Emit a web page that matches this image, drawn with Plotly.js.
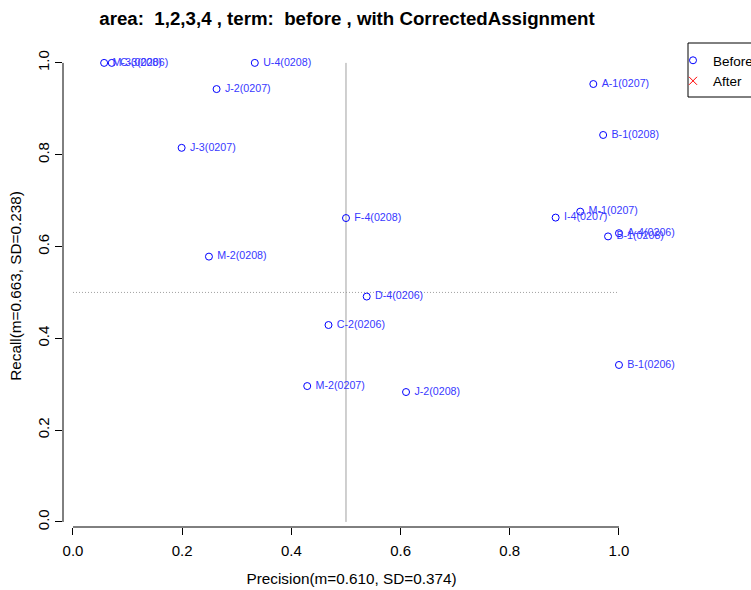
<!DOCTYPE html>
<html>
<head>
<meta charset="utf-8">
<script src="https://cdn.plot.ly/plotly-3.0.1.min.js"></script>
<style>html,body{margin:0;padding:0;background:#fff;}#chart{width:751px;height:590px;}</style>
</head>
<body>
<div id="chart"></div>
<script>
var labels = ["M-3(0208)","C-3(0206)","U-4(0208)","J-2(0207)","J-3(0207)","A-1(0207)","B-1(0208)","F-4(0208)","M-2(0208)","I-4(0207)","M-1(0207)","A-4(0206)","B-1(0208)","D-4(0206)","C-2(0206)","M-2(0207)","J-2(0208)","B-1(0206)"];
var precision = [0.057,0.071,0.333,0.263,0.199,0.953,0.971,0.500,0.249,0.884,0.929,1.000,0.980,0.538,0.468,0.429,0.610,1.000];
var recall    = [1.000,1.000,1.000,0.943,0.815,0.954,0.843,0.662,0.578,0.663,0.676,0.629,0.622,0.491,0.429,0.296,0.283,0.342];
var afterPrecision = [null];
var afterRecall = [null];
var xTicks = [0,0.2,0.4,0.6,0.8,1.0];
var yTicks = [0,0.2,0.4,0.6,0.8,1.0];

var FONT = "Liberation Sans, Arial, sans-serif";
var xRange = [-0.0183, 1.0385];
var yRange = [-0.011, 1.039];

var traces = [
  {x: precision, y: recall, text: labels, type: "scatter", mode: "markers+text", name: "Before",
   texttemplate: "\u00a0%{text}",
   marker: {symbol: "circle-open", size: 7, color: "#0000ff", line: {width: 1, color: "#0000ff"}},
   textposition: "middle right", textfont: {family: FONT, size: 10.7, color: "#3838ff"}, cliponaxis: false},
  {x: afterPrecision, y: afterRecall, type: "scatter", mode: "markers", name: "After",
   marker: {symbol: "x-thin-open", size: 8, color: "#ff0000", line: {width: 1, color: "#ff0000"}}}
];

var layout = {
  width: 751, height: 590,
  margin: {l: 63, r: 111, t: 45, b: 63},
  paper_bgcolor: "#fff", plot_bgcolor: "#fff",
  font: {family: FONT, color: "#000"},
  title: {text: "area:\u00a0 1,2,3,4 , term:\u00a0 before , with CorrectedAssignment",
          font: {family: FONT, size: 18.7, color: "#000", weight: "bold"},
          x: 347/751, xref: "container", xanchor: "center", y: 1 - 18/590, yref: "container", yanchor: "middle"},
  xaxis: {range: xRange, tickvals: xTicks, ticktext: xTicks.map(function(v){return v.toFixed(1);}),
          showgrid: false, zeroline: false, showline: false, ticks: "outside", ticklen: 7, tickcolor: "#000",
          ticklabelstandoff: 3,
          tickfont: {family: FONT, size: 15}, title: {text: "Precision(m=0.610, SD=0.374)", font: {family: FONT, size: 15.3}, standoff: 15}},
  yaxis: {range: yRange, tickvals: yTicks, ticktext: yTicks.map(function(v){return v.toFixed(1);}),
          showgrid: false, zeroline: false, showline: false, ticks: "outside", ticklen: 7, tickcolor: "#000", tickangle: -90,
          tickfont: {family: FONT, size: 15}, title: {text: "Recall(m=0.663, SD=0.238)", font: {family: FONT, size: 15.3}, standoff: 9}},
  showlegend: true,
  legend: {xref: "container", yref: "container", x: 673/751, xanchor: "left", y: 1 - 45/590, yanchor: "top",
           borderwidth: 0, bgcolor: "rgba(0,0,0,0)", font: {family: FONT, size: 13.5}, tracegroupgap: 0},
  shapes: [
    {type: "line", xref: "x", yref: "paper", x0: xTicks[0], x1: xTicks[xTicks.length-1], y0: 0, y1: 0, line: {color: "#000", width: 1}},
    {type: "line", xref: "paper", yref: "y", x0: 0, x1: 0, y0: yTicks[0], y1: yTicks[yTicks.length-1], line: {color: "#000", width: 1}},
    {type: "line", xref: "x", yref: "y", x0: 0.5, x1: 0.5, y0: 0, y1: 1, line: {color: "#a0a0a0", width: 1}, layer: "below"},
    {type: "line", xref: "x", yref: "y", x0: 0, x1: 1, y0: 0.5, y1: 0.5, line: {color: "#a0a0a0", width: 1, dash: "1px,2px"}, layer: "below"},
    {type: "rect", xref: "paper", yref: "paper", x0: (688-63)/577, x1: 1.25, y0: (527-97)/482, y1: (527-43)/482,
     line: {color: "#000", width: 1}, fillcolor: "rgba(0,0,0,0)"}
  ]
};

Plotly.newPlot("chart", traces, layout, {displayModeBar: false, staticPlot: true});
</script>
</body>
</html>
